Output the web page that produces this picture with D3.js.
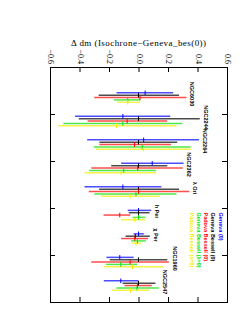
<!DOCTYPE html>
<html>
<head>
<meta charset="utf-8">
<script src="https://cdn.jsdelivr.net/npm/d3@7"></script>
<style>
  html, body { margin: 0; padding: 0; background: #fff; }
  #chart { width: 252px; height: 323px; }
</style>
</head>
<body>
<div id="chart"></div>
<script>
// ── Data ──────────────────────────────────────
const CLUSTERS = ["NGC6030","NGC2244","NGC2264","NGC2362","\u03bb Ori","h Per","\u03c7 Per","NGC1960","NGC2547"];

const SERIES_NAMES = ["Geneva (0)","Geneva Bessell (0)","Padova Bessell (0)","Geneva Bessell (\u03bb=0)","Padova Bessell (\u03bb=0)"];

// centre values of Δdm, one array per series (cluster order)
const GENEVA_C     = [ 0.045,-0.106, 0.035, 0.093,-0.106, 0.000, 0.000,-0.127,-0.120];
const GEN_BES_C    = [ 0.000, 0.000, 0.000, 0.000, 0.000, 0.000,-0.022, 0.000, 0.000];
const PAD_BES_C    = [ 0.010,-0.077,-0.027,-0.005, 0.000,-0.127,-0.025,-0.057,-0.007];
const GEN_BESL_C   = [-0.073,-0.106, 0.025,-0.100,-0.017, 0.000,-0.007,-0.120,-0.010];
const PAD_BESL_C   = [-0.073,-0.150, 0.032,-0.118,-0.057,-0.025,-0.017,-0.040,-0.054];

// lower ends
const GENEVA_LO    = [-0.149,-0.430,-0.348,-0.118,-0.366,-0.073,-0.033,-0.217,-0.235];
const GEN_BES_LO   = [-0.270,-0.405,-0.265,-0.185,-0.267,-0.066,-0.088,-0.195,-0.108];
const PAD_BES_LO   = [-0.300,-0.345,-0.265,-0.320,-0.337,-0.237,-0.118,-0.320,-0.095];
const GEN_BESL_LO  = [-0.167,-0.510,-0.303,-0.335,-0.300,-0.040,-0.050,-0.220,-0.150];
const PAD_BESL_LO  = [-0.145,-0.545,-0.290,-0.366,-0.255,-0.118,-0.043,-0.235,-0.183];

// upper ends
const GENEVA_HI    = [ 0.235, 0.215, 0.410, 0.305, 0.155, 0.086, 0.036,-0.033, 0.000];
const GEN_BES_HI   = [ 0.275, 0.415, 0.262, 0.195, 0.275, 0.075, 0.077, 0.195, 0.115];
const PAD_BES_HI   = [ 0.325, 0.195, 0.220, 0.300, 0.345,-0.056, 0.065, 0.206, 0.090];
const GEN_BESL_HI  = [ 0.014, 0.297, 0.353, 0.120, 0.258, 0.047, 0.050,-0.010, 0.138];
const PAD_BESL_HI  = [ 0.010, 0.257, 0.355, 0.120, 0.145, 0.045, 0.018, 0.167, 0.077];

const X_TICKS = [-0.6,-0.4,-0.2,0.0,0.2,0.4,0.6];
const Y_TICKS = [2,4,6,8];

(function () {

  const COLORS = ["#0000ff","#000000","#ff0000","#00e000","#f0f000"];
  const SERIF  = "'Liberation Serif','DejaVu Serif',serif";
  const SANS   = "'Liberation Sans',Arial,sans-serif";

  const centres = [GENEVA_C, GEN_BES_C, PAD_BES_C, GEN_BESL_C, PAD_BESL_C];
  const lows    = [GENEVA_LO, GEN_BES_LO, PAD_BES_LO, GEN_BESL_LO, PAD_BESL_LO];
  const highs   = [GENEVA_HI, GEN_BES_HI, PAD_BES_HI, GEN_BESL_HI, PAD_BESL_HI];

  const rows = [];
  CLUSTERS.forEach((name, i) => {
    for (let k = 0; k < 5; k++) {
      rows.push({ cluster: i + 1, k, c: centres[k][i], lo: lows[k][i], hi: highs[k][i] });
    }
  });

  const W = 252, H = 323;
  const frame = { left: 50, right: 227, top: 67, bottom: 302 };

  const svg = d3.select("#chart").append("svg").attr("width", W).attr("height", H);

  const x = d3.scaleLinear().domain([-0.6, 0.6]).range([frame.left, frame.right]);
  const y = d3.scaleLinear().domain([0, 10]).range([frame.top, frame.bottom]);

  // ── Frame & ticks ────────────────────────────
  const top = svg.append("g").attr("transform", `translate(0,${frame.top})`)
    .call(d3.axisTop(x).tickValues(X_TICKS).tickSizeInner(-5).tickSizeOuter(0).tickFormat(d3.format(".1f")));
  top.select(".domain").remove();
  top.selectAll(".tick line").attr("stroke", "#000");
  top.selectAll(".tick text")
    .attr("font-family", SERIF).attr("font-size", "8px").attr("fill", "#000")
    .attr("text-anchor", "end").attr("dominant-baseline", "central")
    .attr("transform", "translate(0,-3) rotate(90)").attr("x", 0).attr("y", 0);

  const bot = svg.append("g").attr("transform", `translate(0,${frame.bottom})`)
    .call(d3.axisBottom(x).tickValues(X_TICKS).tickSizeInner(-5).tickSizeOuter(0).tickFormat(""));
  bot.select(".domain").remove();
  bot.selectAll(".tick line").attr("stroke", "#000");

  const lft = svg.append("g").attr("transform", `translate(${frame.left},0)`)
    .call(d3.axisLeft(y).tickValues(Y_TICKS).tickSizeInner(-5).tickSizeOuter(0).tickFormat(""));
  lft.select(".domain").remove();
  lft.selectAll(".tick line").attr("stroke", "#000");

  const rgt = svg.append("g").attr("transform", `translate(${frame.right},0)`)
    .call(d3.axisRight(y).tickValues(Y_TICKS).tickSizeInner(-5).tickSizeOuter(0).tickFormat(""));
  rgt.select(".domain").remove();
  rgt.selectAll(".tick line").attr("stroke", "#000");

  svg.append("rect")
    .attr("x", frame.left + 0.5).attr("y", frame.top + 0.5)
    .attr("width", frame.right - frame.left).attr("height", frame.bottom - frame.top)
    .attr("fill", "none").attr("stroke", "#000").attr("stroke-width", 1);

  // Title
  svg.append("text")
    .attr("x", x(0)).attr("y", 46)
    .attr("text-anchor", "middle").attr("font-family", SERIF).attr("font-size", "9px")
    .attr("textLength", 135).attr("lengthAdjust", "spacing")
    .text("\u0394 dm (Isochrone\u2212Geneva_bes(0))");

  // ── Error bars ───────────────────────────────
  const yPos = d => y(d.cluster + 0.1 * (d.k + 1));

  svg.selectAll(".bar").data(rows).join("line")
    .attr("class", "bar")
    .attr("x1", d => x(d.lo)).attr("x2", d => x(d.hi))
    .attr("y1", yPos).attr("y2", yPos)
    .attr("stroke", d => COLORS[d.k]).attr("stroke-width", 1.5).attr("stroke-opacity", 0.7);

  svg.selectAll(".mid").data(rows).join("line")
    .attr("class", "mid")
    .attr("x1", d => x(d.c)).attr("x2", d => x(d.c))
    .attr("y1", d => yPos(d) - 2.3).attr("y2", d => yPos(d) + 2.3)
    .attr("stroke", d => COLORS[d.k]).attr("stroke-width", 1);

  // Cluster labels, just past the widest bar of each group
  svg.selectAll(".clabel").data(CLUSTERS).join("text")
    .attr("class", "clabel")
    .attr("transform", (name, i) => {
      const maxHi = d3.max(highs, arr => arr[i]);
      return `translate(${x(maxHi + 0.04)},${y(i + 1.15)}) rotate(90)`;
    })
    .attr("text-anchor", "middle").attr("dominant-baseline", "central")
    .attr("font-family", SANS).attr("font-size", "5.5px").attr("font-weight", "bold")
    .text(d => d);

  // ── Legend ───────────────────────────────────
  svg.selectAll(".legend").data(SERIES_NAMES).join("text")
    .attr("class", "legend")
    .attr("transform", (d, k) => `translate(${220.5 - 7.1 * k},${212.5}) rotate(90)`)
    .attr("text-anchor", "start").attr("dominant-baseline", "central")
    .attr("font-family", SANS).attr("font-size", "5.5px").attr("font-weight", "bold")
    .attr("fill", (d, k) => COLORS[k])
    .text(d => d);

})();
</script>
</body>
</html>
